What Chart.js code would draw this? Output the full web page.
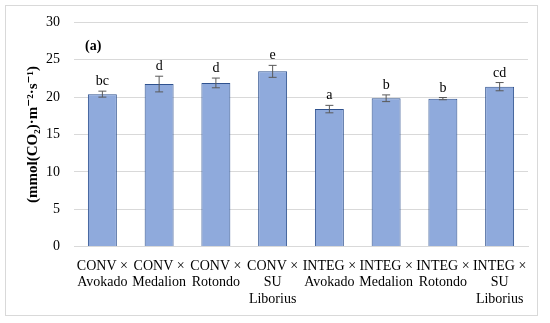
<!DOCTYPE html>
<html>
<head>
<meta charset="utf-8">
<script src="https://cdn.jsdelivr.net/npm/chart.js@4"></script>
<style>
  body { margin: 0; background: #fff; }
  #wrap { position: relative; width: 550px; height: 323px; }
  #frame { position: absolute; left: 5px; top: 5px; width: 531px; height: 309px; border: 1px solid #d9d9d9; }
  canvas { position: absolute; left: 0; top: 0; }
</style>
</head>
<body>
<div id="wrap">
  <div id="frame"></div>
  <canvas id="photoChart" width="550" height="323"></canvas>
</div>
<script>
const categories = [
    ['CONV ×', 'Avokado'], ['CONV ×', 'Medalion'], ['CONV ×', 'Rotondo'], ['CONV ×', 'SU', 'Liborius'],
    ['INTEG ×', 'Avokado'], ['INTEG ×', 'Medalion'], ['INTEG ×', 'Rotondo'], ['INTEG ×', 'SU', 'Liborius']
];
const means = [20.4, 21.75, 21.9, 23.45, 18.4, 19.85, 19.8, 21.4];
const errors = [0.4, 1.05, 0.65, 0.8, 0.5, 0.45, 0.15, 0.55];
const letters = ['bc', 'd', 'd', 'e', 'a', 'b', 'b', 'cd'];
const yTicks = [0, 5, 10, 15, 20, 25, 30];

const serif = '"Liberation Serif", "DejaVu Serif", serif';

// error bars, significance letters and the panel label
const extrasPlugin = {
    id: 'extras',
    afterDatasetsDraw(chart) {
        const ctx = chart.ctx;
        const y = chart.scales.y;
        const meta = chart.getDatasetMeta(0);
        ctx.save();
        meta.data.forEach((bar, i) => {
            const x = bar.x;
            const top = y.getPixelForValue(means[i] + errors[i]);
            const bot = y.getPixelForValue(means[i] - errors[i]);
            ctx.strokeStyle = '#595959';
            ctx.lineWidth = 1;
            ctx.beginPath();
            ctx.moveTo(x, top); ctx.lineTo(x, bot);
            ctx.moveTo(x - 4, top); ctx.lineTo(x + 4, top);
            ctx.moveTo(x - 4, bot); ctx.lineTo(x + 4, bot);
            ctx.stroke();
            ctx.fillStyle = '#000';
            ctx.font = '14px ' + serif;
            ctx.textAlign = 'center';
            ctx.textBaseline = 'alphabetic';
            ctx.fillText(letters[i], x, top - 6);
        });
        ctx.font = 'bold 14px ' + serif;
        ctx.textAlign = 'left';
        ctx.textBaseline = 'middle';
        ctx.fillText('(a)', chart.chartArea.left + 11, chart.chartArea.top + 24);
        ctx.restore();
    }
};

new Chart(document.getElementById('photoChart'), {
    type: 'bar',
    data: {
        labels: categories,
        datasets: [{
            data: means,
            backgroundColor: '#8faadc',
            borderColor: '#2f528f',
            borderWidth: 1,
            categoryPercentage: 1,
            barPercentage: 0.51
        }]
    },
    options: {
        responsive: false,
        animation: false,
        layout: { padding: { left: 24, right: 22, top: 14, bottom: 12 } },
        plugins: { legend: { display: false }, tooltip: { enabled: false } },
        scales: {
            x: {
                grid: { display: false },
                border: { display: true, color: '#d9d9d9' },
                ticks: { color: '#000', font: { family: serif, size: 14 }, maxRotation: 0, autoSkip: false, padding: 3 }
            },
            y: {
                min: 0,
                max: 30,
                afterBuildTicks(axis) { axis.ticks = yTicks.map(v => ({ value: v })); },
                grid: { color: '#d9d9d9', drawTicks: false },
                border: { display: false },
                ticks: { color: '#000', font: { family: serif, size: 14 }, padding: 14 },
                title: {
                    display: true,
                    text: '(mmol(CO₂)·m⁻²·s⁻¹)',
                    color: '#000',
                    font: { family: serif, size: 15, weight: 'bold' },
                    padding: { top: 0, bottom: -10 }
                }
            }
        }
    },
    plugins: [extrasPlugin]
});
</script>
</body>
</html>
